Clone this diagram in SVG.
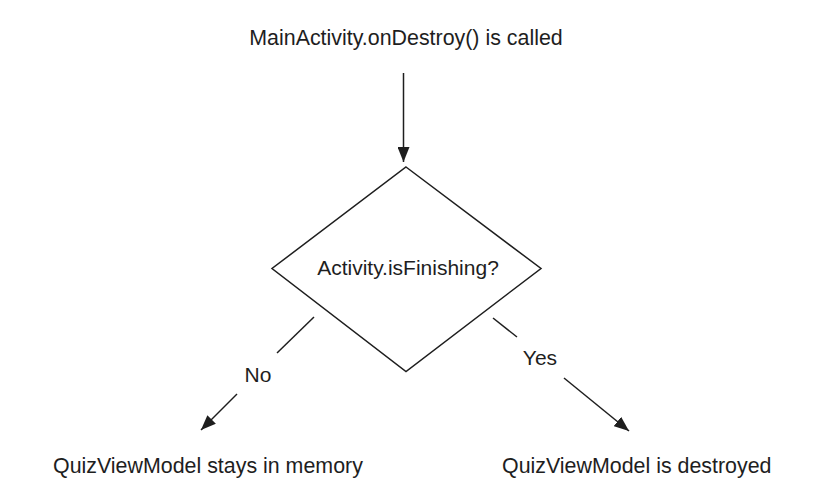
<svg xmlns="http://www.w3.org/2000/svg" width="822" height="494" viewBox="0 0 822 494">
<style>
  text { font-family: "Liberation Sans", Arial, Helvetica, sans-serif; font-size: 21.4px; fill: #1e1e1e; }
  .mid { text-anchor: middle; }
  .small { font-size: 21px; }
  .shape { fill: #ffffff; stroke: #1e1e1e; stroke-width: 1.5; }
  .conn { fill: none; stroke: #1e1e1e; stroke-width: 1.5; }
</style>
<defs>
  <marker id="arrow" markerUnits="userSpaceOnUse" markerWidth="16" markerHeight="12" refX="15" refY="6" orient="auto">
    <path d="M0,0 L15,6 L0,12 Z" fill="#1e1e1e"/>
  </marker>
</defs>
<rect width="822" height="494" fill="#ffffff"/>
<g id="start">
  <text class="mid" x="406" y="45">MainActivity.onDestroy() is called</text>
</g>
<g id="decision">
  <polygon class="shape" points="406,167 541,268.5 406,371.5 272,268.5"/>
  <text class="mid small" x="408" y="275">Activity.isFinishing?</text>
</g>
<g id="stays">
  <text x="53" y="473">QuizViewModel stays in memory</text>
</g>
<g id="destroyed">
  <text x="502" y="473">QuizViewModel is destroyed</text>
</g>
<g id="connectors">
  <line class="conn" x1="403.5" y1="73" x2="403.5" y2="162" marker-end="url(#arrow)"/>
  <line class="conn" x1="314" y1="317" x2="277" y2="353"/>
  <text class="mid small" x="258" y="382">No</text>
  <line class="conn" x1="237" y1="394" x2="201" y2="430" marker-end="url(#arrow)"/>
  <line class="conn" x1="493" y1="318" x2="517" y2="337"/>
  <text class="mid small" x="540" y="365">Yes</text>
  <line class="conn" x1="564" y1="378" x2="629" y2="431" marker-end="url(#arrow)"/>
</g>
</svg>
